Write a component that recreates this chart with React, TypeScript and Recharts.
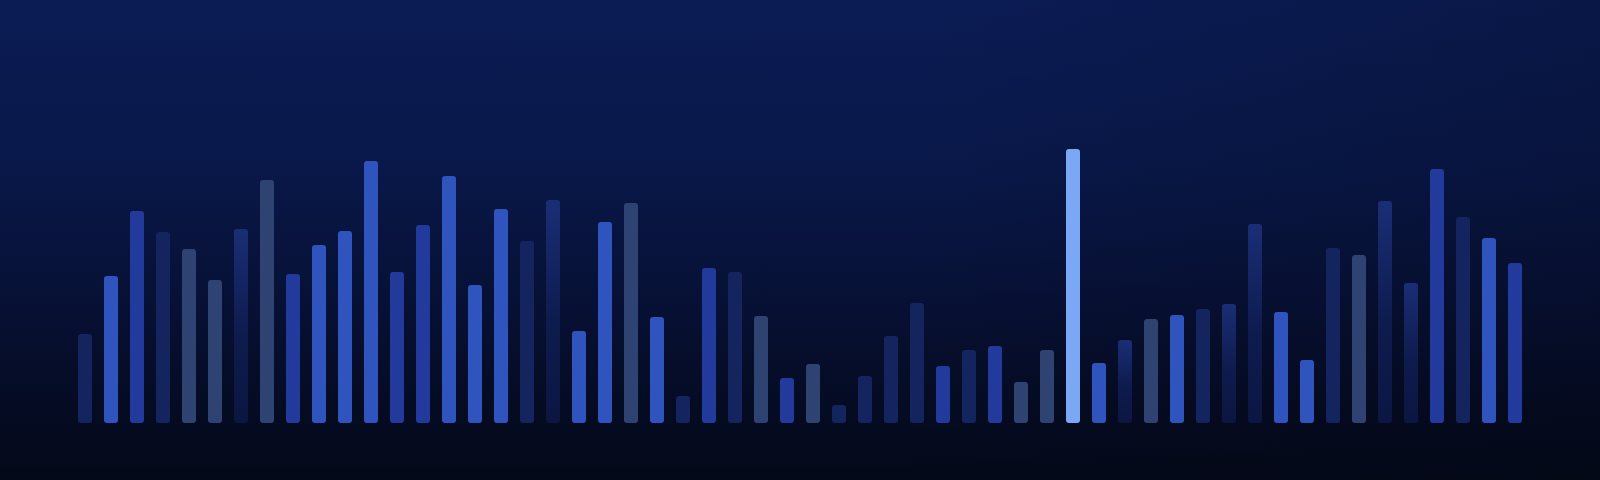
import { Bar, BarChart, Cell, XAxis, YAxis } from 'recharts';

// 56 columns, heights
const categories = Array.from({ length: 56 }, (_, i) => `C${i + 1}`);

const values = [
    89, 147, 212, 191, 174, 143, 194, 243, 149, 178, 192, 262, 151, 198,
    247, 138, 214, 182, 223, 92, 201, 220, 106, 27, 155, 151, 107, 45,
    59, 18, 47, 87, 120, 57, 73, 77, 41, 73, 274, 60, 83, 104,
    108, 114, 119, 199, 111, 63, 175, 168, 222, 140, 254, 206, 185, 160,
];

// tone per column
const tones = [
    'navy', 'bright', 'medium', 'navy', 'slate', 'slate', 'dim', 'slate', 'medium', 'bright', 'bright', 'bright', 'medium', 'medium',
    'bright', 'bright', 'bright', 'navy', 'dim', 'bright', 'bright', 'slate', 'bright', 'navy', 'medium', 'navy', 'slate', 'medium',
    'slate', 'navy', 'navy', 'navy', 'navy', 'medium', 'navy', 'medium', 'slate', 'slate', 'peak', 'bright', 'dim', 'slate',
    'bright', 'navy', 'dim', 'dim', 'bright', 'bright', 'navy', 'slate', 'dim', 'dim', 'medium', 'navy', 'bright', 'medium',
];

const palette: Record<string, string> = {
    bright: '#2f54bd',
    medium: '#233a9d',
    navy: '#14245f',
    slate: '#2f4373',
    dim: 'url(#dimFill)',
    peak: '#7aa8f5',
};

const chartData = categories.map((name, i) => ({
    name,
    value: values[i],
    tone: tones[i],
}));

export default function App() {
    return (
        <div
            style={{
                position: 'absolute',
                top: 0,
                left: 0,
                width: 1600,
                height: 480,
                background:
                    'linear-gradient(100deg, rgba(0,0,0,0) 55%, rgba(2,4,14,0.22) 100%), linear-gradient(180deg, #0b1c55 0%, #091849 35%, #071136 62%, #050b22 85%, #040919 100%)',
            }}
        >
            <BarChart
                width={1600}
                height={480}
                data={chartData}
                margin={{ top: 23, right: 72, bottom: 57, left: 72 }}
                barCategoryGap={0}
            >
                <defs>
                    <linearGradient id="dimFill" x1="0" y1="0" x2="0" y2="1">
                        <stop offset="0%" stopColor="#1a2e76" />
                        <stop offset="55%" stopColor="#0e1b4e" />
                        <stop offset="100%" stopColor="#0b1642" />
                    </linearGradient>
                </defs>
                <XAxis dataKey="name" hide />
                <YAxis domain={[0, 400]} hide />
                <Bar
                    dataKey="value"
                    barSize={14}
                    radius={3}
                    isAnimationActive={false}
                >
                    {chartData.map((d) => (
                        <Cell key={d.name} fill={palette[d.tone]} />
                    ))}
                </Bar>
            </BarChart>
        </div>
    );
}
